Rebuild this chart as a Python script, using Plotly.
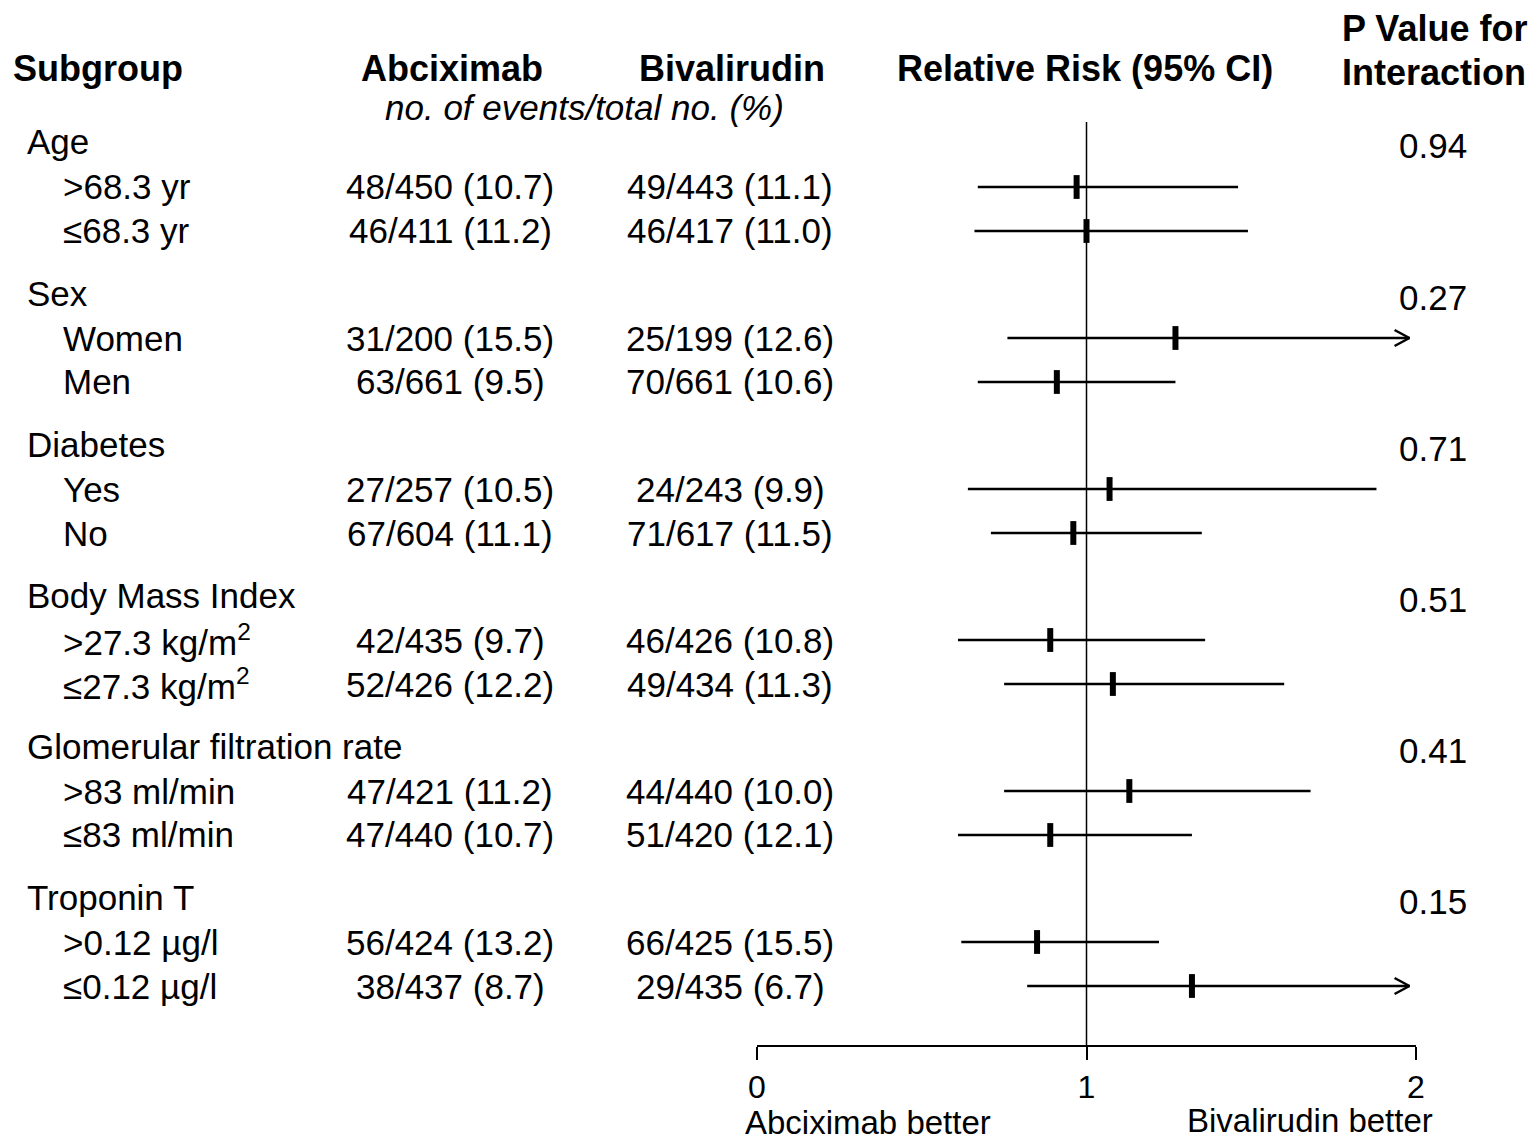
import plotly.graph_objects as go

# ---------------- data ----------------
groups = ["Age", "Sex", "Diabetes", "Body Mass Index",
          "Glomerular filtration rate", "Troponin T"]
p_values = ["0.94", "0.27", "0.71", "0.51", "0.41", "0.15"]

sub_labels = [">68.3 yr", "≤68.3 yr", "Women", "Men", "Yes", "No",
              ">27.3 kg/m<sup>2</sup>", "≤27.3 kg/m<sup>2</sup>",
              ">83 ml/min", "≤83 ml/min", ">0.12 µg/l", "≤0.12 µg/l"]
abciximab = ["48/450 (10.7)", "46/411 (11.2)", "31/200 (15.5)", "63/661 (9.5)",
             "27/257 (10.5)", "67/604 (11.1)", "42/435 (9.7)", "52/426 (12.2)",
             "47/421 (11.2)", "47/440 (10.7)", "56/424 (13.2)", "38/437 (8.7)"]
bivalirudin = ["49/443 (11.1)", "46/417 (11.0)", "25/199 (12.6)", "70/661 (10.6)",
               "24/243 (9.9)", "71/617 (11.5)", "46/426 (10.8)", "49/434 (11.3)",
               "44/440 (10.0)", "51/420 (12.1)", "66/425 (15.5)", "29/435 (6.7)"]
rel_risk = [0.97, 1.00, 1.27, 0.91, 1.07, 0.96, 0.89, 1.08, 1.13, 0.89, 0.85, 1.32]
ci_low = [0.67, 0.66, 0.76, 0.67, 0.64, 0.71, 0.61, 0.75, 0.75, 0.61, 0.62, 0.82]
# None = upper limit runs off the scale (drawn as an arrow)
ci_high = [1.46, 1.49, None, 1.27, 1.88, 1.35, 1.36, 1.60, 1.68, 1.32, 1.22, None]

x_ticks = [0, 1, 2]
x_tick_text = ["0", "1", "2"]

# ---------------- layout constants ----------------
W, H = 1532, 1140
AX_LEFT_PX, AX_RIGHT_PX = 757, 1416
AXIS_Y = 1045
FIRST_GROUP_Y, GROUP_STEP = 142, 151
ROW_OFFSETS = [45, 89]
ARROW_TIP = 1.98
FONT = "Liberation Sans, Arial, sans-serif"
FS = 35
FS_BOLD = 36

group_y = [FIRST_GROUP_Y + g * GROUP_STEP for g in range(len(groups))]
row_y = [group_y[i // 2] + ROW_OFFSETS[i % 2] for i in range(len(sub_labels))]

fig = go.Figure()

# CI lines
xs, ys = [], []
for lo, hi, y in zip(ci_low, ci_high, row_y):
    xs += [lo, hi if hi is not None else ARROW_TIP, None]
    ys += [y, y, None]
fig.add_trace(go.Scatter(x=xs, y=ys, mode="lines",
                         line=dict(color="black", width=2.5), hoverinfo="skip"))

# arrow heads (open chevrons) for off-scale upper limits
ax, ay = [], []
for hi, y in zip(ci_high, row_y):
    if hi is None:
        ax += [ARROW_TIP - 0.045, ARROW_TIP, ARROW_TIP - 0.045, None]
        ay += [y - 8, y, y + 8, None]
fig.add_trace(go.Scatter(x=ax, y=ay, mode="lines",
                         line=dict(color="black", width=2.5), hoverinfo="skip"))

# point estimates
fig.add_trace(go.Scatter(x=rel_risk, y=row_y, mode="markers",
                         marker=dict(symbol="line-ns", size=17, color="black",
                                     line=dict(width=6, color="black"))))

# reference line at 1
fig.add_shape(type="line", xref="x", yref="y", x0=1, x1=1, y0=122, y1=AXIS_Y,
              line=dict(color="black", width=1.5))


def txt(text, px, py, anchor="left", bold=False, italic=False, size=FS):
    if bold:
        text = "<b>" + text + "</b>"
        size = FS_BOLD
    if italic:
        text = "<i>" + text + "</i>"
    fig.add_annotation(text=text, x=px / W, y=1 - py / H, xref="paper", yref="paper",
                       xanchor=anchor, yanchor="middle", showarrow=False,
                       borderpad=0,
                       font=dict(family=FONT, size=size, color="black"))


# headers
txt("Subgroup", 12, 69, bold=True)
txt("Abciximab", 452, 69, "center", bold=True)
txt("Bivalirudin", 732, 69, "center", bold=True)
txt("Relative Risk (95% CI)", 1085, 69, "center", bold=True)
txt("P Value for", 1528, 29, "right", bold=True)
txt("Interaction", 1527, 73, "right", bold=True)
txt("no. of events/total no. (%)", 584, 108, "center", italic=True)

for g, name in enumerate(groups):
    txt(name, 26, group_y[g])
    txt(p_values[g], 1433, group_y[g] + 4, "center")

for i, lab in enumerate(sub_labels):
    txt(lab, 62, row_y[i])
    txt(abciximab[i], 450, row_y[i], "center")
    txt(bivalirudin[i], 730, row_y[i], "center")

txt("Abciximab better", 868, 1122, "center", size=33)
txt("Bivalirudin better", 1310, 1120, "center", size=33)

fig.update_layout(
    width=W, height=H, margin=dict(l=0, r=0, t=0, b=0, pad=0, autoexpand=False),
    paper_bgcolor="white", plot_bgcolor="white", showlegend=False,
    xaxis=dict(domain=[AX_LEFT_PX / W, AX_RIGHT_PX / W], range=[0, 2],
               tickvals=x_ticks, ticktext=x_tick_text, ticks="outside",
               ticklen=13, tickwidth=1.5, tickcolor="black",
               showline=True, linewidth=1.5, linecolor="black",
               showgrid=False, zeroline=False, automargin=False,
               tickfont=dict(family=FONT, size=32, color="black")),
    yaxis=dict(domain=[(H - AXIS_Y) / H, 1], range=[AXIS_Y, 0], visible=False,
               automargin=False),
)

fig.write_html("out.html", config={"displayModeBar": False},
               post_script="document.body.style.margin='0';"
                           "document.body.style.overflow='hidden';")
